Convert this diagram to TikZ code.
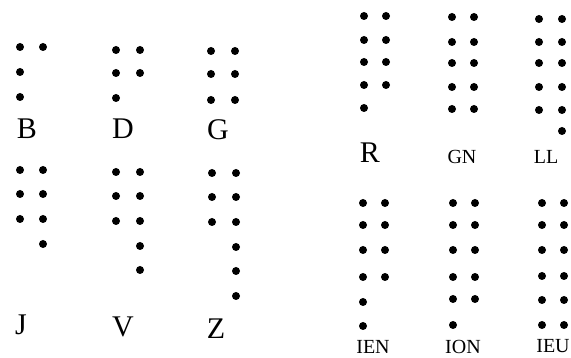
\documentclass[tikz,border=0pt]{standalone}
\usepackage{fontspec}
\setmainfont{Liberation Serif}

\begin{document}
\begin{tikzpicture}[x=1pt, y=-1pt,
		big/.style={font=\fontsize{30}{32}\selectfont, anchor=base, inner sep=0pt},
		small/.style={font=\fontsize{20}{22}\selectfont, anchor=base, inner sep=0pt}]
		\useasboundingbox (0,0) rectangle (571,358);
		
		% Left block, first line: B, D, G
		\foreach \x/\y in {20/47, 43/47, 20/72, 20/97} \fill (\x,\y) circle (4pt);
		\node[big] (B) at (27,139) {B};
		\foreach \x/\y in {116/50, 140/50, 116/73, 140/73, 116/98} \fill (\x,\y) circle (4pt);
		\node[big] (D) at (123,139) {D};
		\foreach \y in {51, 74, 100} {\fill (211,\y) circle (4pt); \fill (235,\y) circle (4pt);}
		\node[big] (G) at (218,140) {G};
		
		% Left block, second line: J, V, Z
		\foreach \y in {170, 194, 219} {\fill (20,\y) circle (4pt); \fill (43,\y) circle (4pt);}
		\fill (43,244) circle (4pt);
		\node[big] (J) at (21,335) {J};
		\foreach \y in {172, 196, 221} {\fill (116,\y) circle (4pt); \fill (140,\y) circle (4pt);}
		\foreach \y in {246, 270} \fill (140,\y) circle (4pt);
		\node[big] (V) at (123,337) {V};
		\foreach \y in {173, 197, 222} {\fill (212,\y) circle (4pt); \fill (236,\y) circle (4pt);}
		\foreach \y in {247, 271, 296} \fill (236,\y) circle (4pt);
		\node[big] (Z) at (216,339) {Z};
		
		% Right block, first line: R, GN, LL
		\foreach \y in {16, 40, 62, 85} {\fill (364,\y) circle (4pt); \fill (386,\y) circle (4pt);}
		\fill (364,108) circle (4pt);
		\node[big] (R) at (370,163) {R};
		\foreach \y in {17, 42, 63, 87, 109} {\fill (452,\y) circle (4pt); \fill (474,\y) circle (4pt);}
		\node[small] (GN) at (462,164) {GN};
		\foreach \y in {19, 42, 63, 87, 110} {\fill (539,\y) circle (4pt); \fill (562,\y) circle (4pt);}
		\fill (562,131) circle (4pt);
		\node[small] (LL) at (546,164) {LL};
		
		% Right block, second line: IEN, ION, IEU
		\foreach \y in {203, 225, 250, 277} {\fill (363,\y) circle (4pt); \fill (385,\y) circle (4pt);}
		\foreach \y in {302, 326} \fill (363,\y) circle (4pt);
		\node[small] (IEN) at (373,354) {IEN};
		\foreach \y in {203, 225, 250, 277, 299} {\fill (453,\y) circle (4pt); \fill (475,\y) circle (4pt);}
		\fill (453,325) circle (4pt);
		\node[small] (ION) at (463,354) {ION};
		\foreach \y in {203, 225, 250, 276, 300, 325} {\fill (542,\y) circle (4pt); \fill (564,\y) circle (4pt);}
		\node[small] (IEU) at (553,353) {IEU};
		
	\end{tikzpicture}
\end{document}
